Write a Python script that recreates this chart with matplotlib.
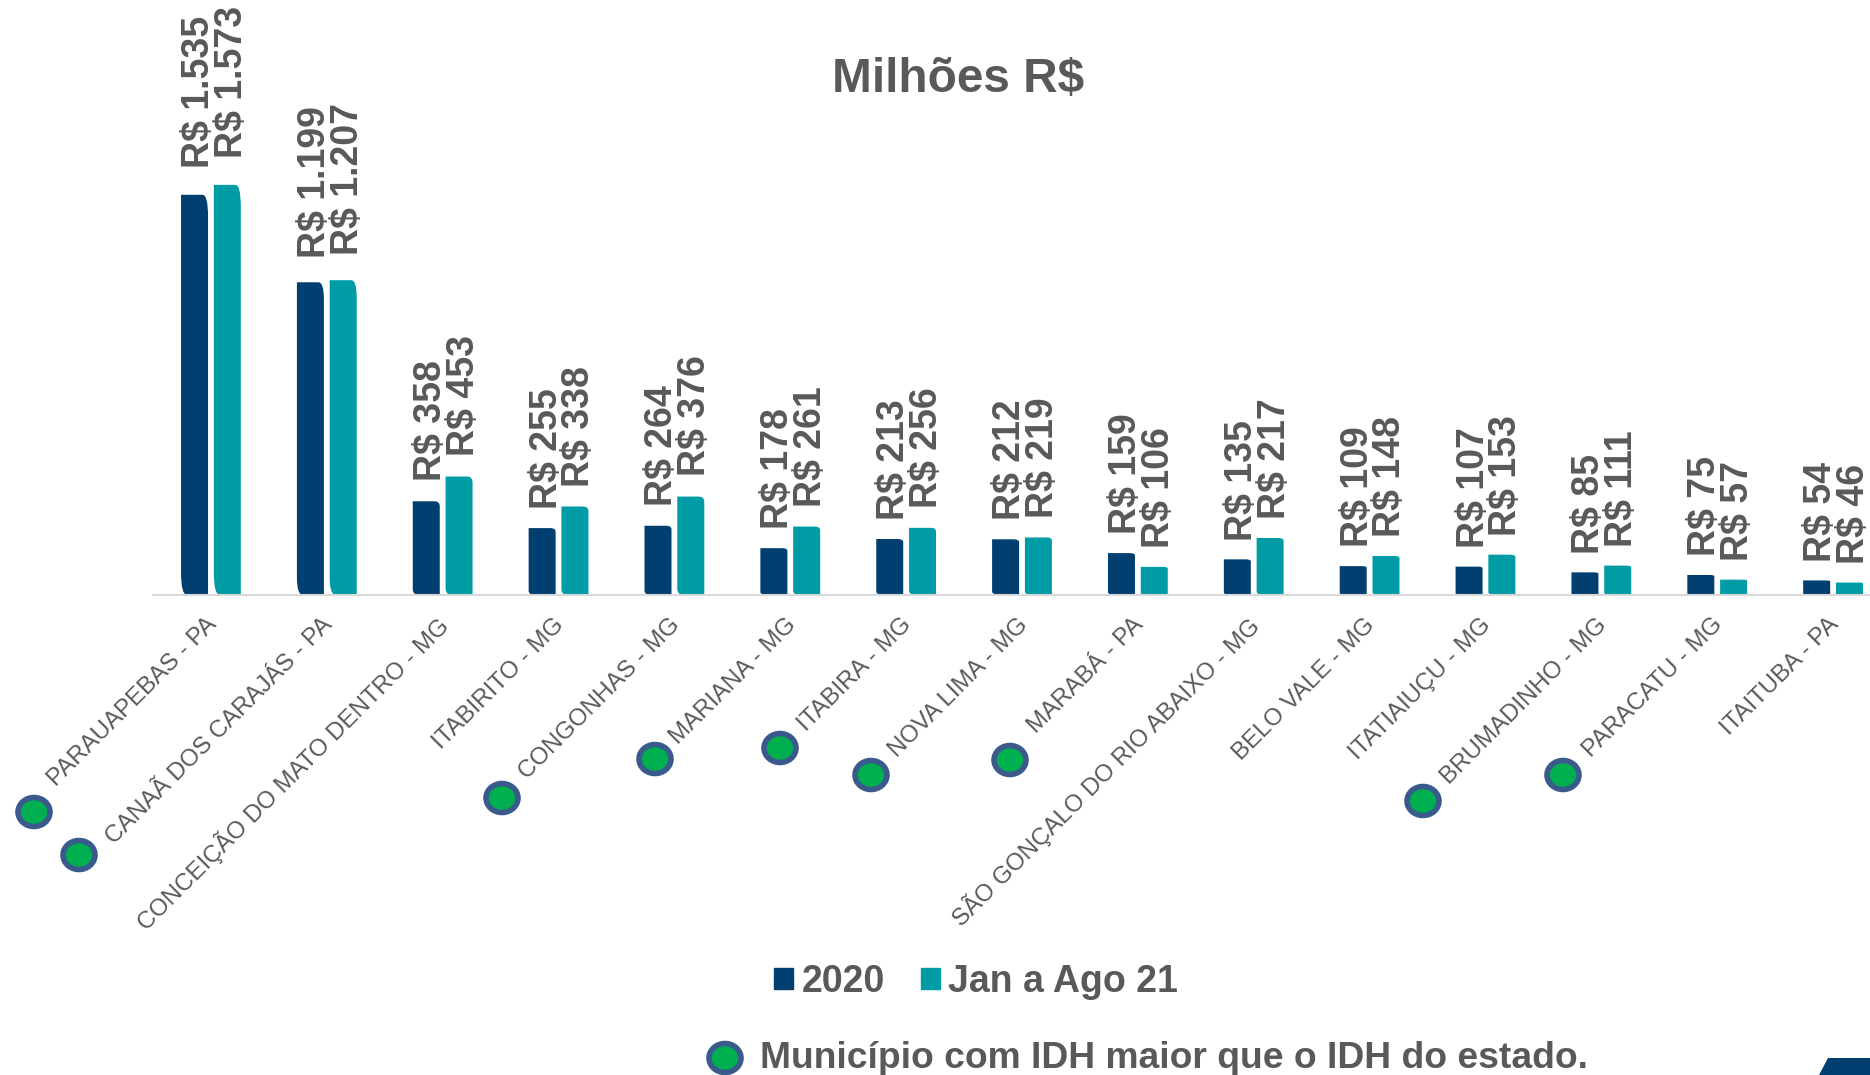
import matplotlib
matplotlib.use('Agg')
import matplotlib.pyplot as plt
from matplotlib.patches import Ellipse, PathPatch, Polygon, Patch
from matplotlib.path import Path

W, H = 1870, 1075

# dados
municipios = ['PARAUAPEBAS - PA', 'CANAÃ DOS CARAJÁS - PA', 'CONCEIÇÃO DO MATO DENTRO - MG',
              'ITABIRITO - MG', 'CONGONHAS - MG', 'MARIANA - MG', 'ITABIRA - MG', 'NOVA LIMA - MG',
              'MARABÁ - PA', 'SÃO GONÇALO DO RIO ABAIXO - MG', 'BELO VALE - MG', 'ITATIAIUÇU - MG',
              'BRUMADINHO - MG', 'PARACATU - MG', 'ITAITUBA - PA']
valores_2020 = [1535, 1199, 358, 255, 264, 178, 213, 212, 159, 135, 109, 107, 85, 75, 54]
valores_2021 = [1573, 1207, 453, 338, 376, 261, 256, 219, 106, 217, 148, 153, 111, 57, 46]

# bolinhas verdes, posicao em pixels da figura
bolinhas = [(34, 812), (79, 855), (502, 798), (655, 759), (780, 748), (871, 775),
            (1010, 760), (1423, 801), (1563, 775), (725, 1058)]

AZUL = '#003F6F'
TEAL = '#009CA6'
CINZA = '#595959'
FONTE = 'Liberation Sans'


def fx(x):
    return x / W


def fy(y):
    return 1 - y / H


def barra(ax, x, larg, alt, cor):
    # canto superior direito e inferior esquerdo arredondados
    rx = larg * 0.2
    ry = alt * 0.055
    e, d = x - larg / 2, x + larg / 2
    verts = [(e, alt), (d - rx, alt), (d, alt), (d, alt - ry), (d, 0), (e + rx, 0), (e, 0), (e, ry), (e, alt)]
    cods = [Path.MOVETO, Path.LINETO, Path.CURVE3, Path.CURVE3, Path.LINETO,
            Path.LINETO, Path.CURVE3, Path.CURVE3, Path.CLOSEPOLY]
    ax.add_patch(PathPatch(Path(verts, cods), facecolor=cor, edgecolor='none'))


def rotulo(ax, x, v):
    txt = 'R$ ' + f'{v:,}'.replace(',', '.')
    # nas barras altas o rotulo fica um pouco mais afastado
    ax.annotate(txt, (x, v), xytext=(3.2, 13 + v * 0.004), textcoords='offset points', rotation=90,
                ha='center', va='bottom', fontsize=27, fontweight='bold', color=CINZA, family=FONTE)


fig = plt.figure(figsize=(W / 100, H / 100), dpi=100)
ax = fig.add_axes([fx(153), fy(594.5), 1738 / W, 594.5 / H])

larg = 0.233
desl = 0.1415
for i in range(len(municipios)):
    barra(ax, i - desl, larg, valores_2020[i], AZUL)
    barra(ax, i + desl, larg, valores_2021[i], TEAL)
    rotulo(ax, i - desl, valores_2020[i])
    rotulo(ax, i + desl, valores_2021[i])

ax.set_xlim(-0.5, len(municipios) - 0.5)
ax.set_ylim(0, 2283)
ax.set_yticks([])
ax.set_xticks([i + 0.02 for i in range(len(municipios))])
ax.set_xticklabels(municipios, rotation=45, ha='right', va='center', rotation_mode='anchor',
                   fontsize=17.3, color=CINZA, family=FONTE)
ax.tick_params(axis='x', length=0, pad=19.5)
for lado in ['top', 'left', 'right']:
    ax.spines[lado].set_visible(False)
ax.spines['bottom'].set_color('#D9D9D9')
ax.spines['bottom'].set_linewidth(1.5)
ax.patch.set_alpha(0)

fig.text(fx(958), fy(80), 'Milhões R$', ha='center', va='center', fontsize=34.4, fontweight='bold',
         color=CINZA, family=FONTE)

# legenda
fig.legend(handles=[Patch(color=AZUL, label='2020'), Patch(color=TEAL, label='Jan a Ago 21')],
           loc='center', bbox_to_anchor=(fx(976), fy(982)), ncol=2, frameon=False,
           prop={'family': FONTE, 'weight': 'bold', 'size': 27}, labelcolor=CINZA,
           handlelength=0.5, handleheight=0.5, handletextpad=0.22, columnspacing=0.97)

fig.text(fx(760), fy(1059), 'Município com IDH maior que o IDH do estado.', ha='left', va='center',
         fontsize=26.85, fontweight='bold', color=CINZA, family=FONTE)

for (x, y) in bolinhas:
    fig.add_artist(Ellipse((fx(x), fy(y)), 32 / W, 29 / H, facecolor='#00B050', edgecolor='#3B5A8C',
                           linewidth=4, transform=fig.transFigure))

# canto azul
canto = [(fx(1819), fy(1075)), (fx(1828), fy(1058)), (fx(1870), fy(1058)), (fx(1870), fy(1075))]
fig.add_artist(Polygon(canto, closed=True, facecolor=AZUL, edgecolor='none', transform=fig.transFigure))

fig.savefig('out.png', dpi=100)
